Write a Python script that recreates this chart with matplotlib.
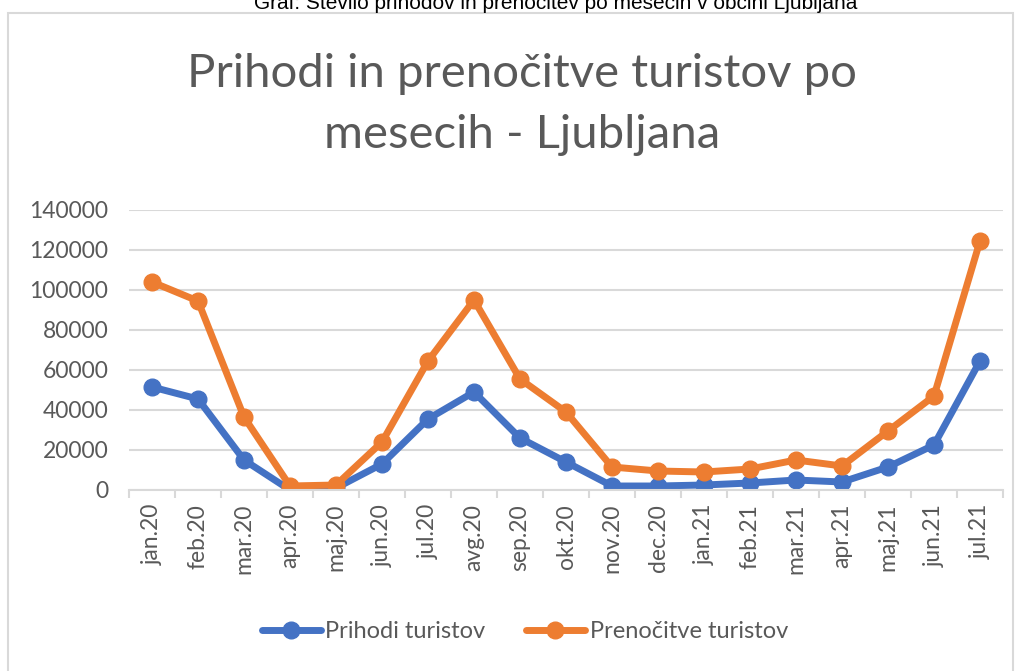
import matplotlib.pyplot as plt
from matplotlib.patches import Rectangle

months = ['jan.20', 'feb.20', 'mar.20', 'apr.20', 'maj.20', 'jun.20', 'jul.20',
          'avg.20', 'sep.20', 'okt.20', 'nov.20', 'dec.20', 'jan.21', 'feb.21',
          'mar.21', 'apr.21', 'maj.21', 'jun.21', 'jul.21']
prihodi = [51500, 45500, 15000, 0, 1000, 13000, 35500, 49000, 26000, 14000,
           2000, 2000, 2500, 3500, 5000, 4000, 11500, 22500, 64500]
prenocitve = [104000, 94500, 36500, 2000, 2500, 24000, 64500, 95000, 55500, 39000,
              11500, 9500, 9000, 10500, 15000, 12000, 29500, 47000, 124500]
yticks = [0, 20000, 40000, 60000, 80000, 100000, 120000, 140000]

font = 'Lato'
gray = '#595959'

fig = plt.figure(figsize=(10.19, 6.71), dpi=100)

# outer chart border
fig.patches.append(Rectangle((8/1019, -0.05), (1013-8)/1019, 1 + 0.05 - 13/671,
                             transform=fig.transFigure, fill=False,
                             edgecolor='#d9d9d9', linewidth=1.5))

# caption cut off at the top (as in the source screenshot)
fig.text(0.545, 1 - 2/671, 'Graf: Število prihodov in prenočitev po mesecih v občini Ljubljana',
         ha='center', va='center', fontsize=15, family='Liberation Sans', color='black')

ax = fig.add_axes([129/1019, 1 - 490/671, (1003-129)/1019, (490-210)/671])
x = range(len(months))
ax.plot(x, prihodi, color='#4472C4', linewidth=5, marker='o', markersize=12,
        label='Prihodi turistov', solid_capstyle='round')
ax.plot(x, prenocitve, color='#ED7D31', linewidth=5, marker='o', markersize=12,
        label='Prenočitve turistov', solid_capstyle='round')

ax.set_xlim(-0.5, len(months) - 0.5)
ax.set_ylim(0, 140000)
ax.set_yticks(yticks)
ax.set_yticklabels([str(v) for v in yticks], fontsize=16.5, color=gray, family=font)
ax.set_xticks(list(x))
ax.set_xticklabels(months, rotation=90, fontsize=16.5, color=gray, family=font)
ax.tick_params(axis='y', length=0, pad=15)
ax.tick_params(axis='x', length=0, pad=10)
# category boundary ticks
ax.set_xticks([i - 0.5 for i in range(len(months) + 1)], minor=True)
ax.tick_params(axis='x', which='minor', length=6, color='#d9d9d9', width=1.5)

ax.grid(axis='y', color='#d9d9d9', linewidth=1.5)
ax.set_axisbelow(True)
for s in ['top', 'right', 'left']:
    ax.spines[s].set_visible(False)
ax.spines['bottom'].set_color('#d9d9d9')
ax.spines['bottom'].set_linewidth(1.5)

ax.set_title('Prihodi in prenočitve turistov po\nmesecih - Ljubljana', fontsize=34,
             color=gray, family=font, pad=45, linespacing=1.55)
ax.title.set_position((0.45, 1))

fig.legend(loc='center', bbox_to_anchor=(0.515, 1 - 632/671), ncol=2, frameon=False,
           prop={'family': font, 'size': 17}, labelcolor=gray, handlelength=2.5,
           columnspacing=1.7, handletextpad=0.2)

plt.savefig('out.png', dpi=100)
